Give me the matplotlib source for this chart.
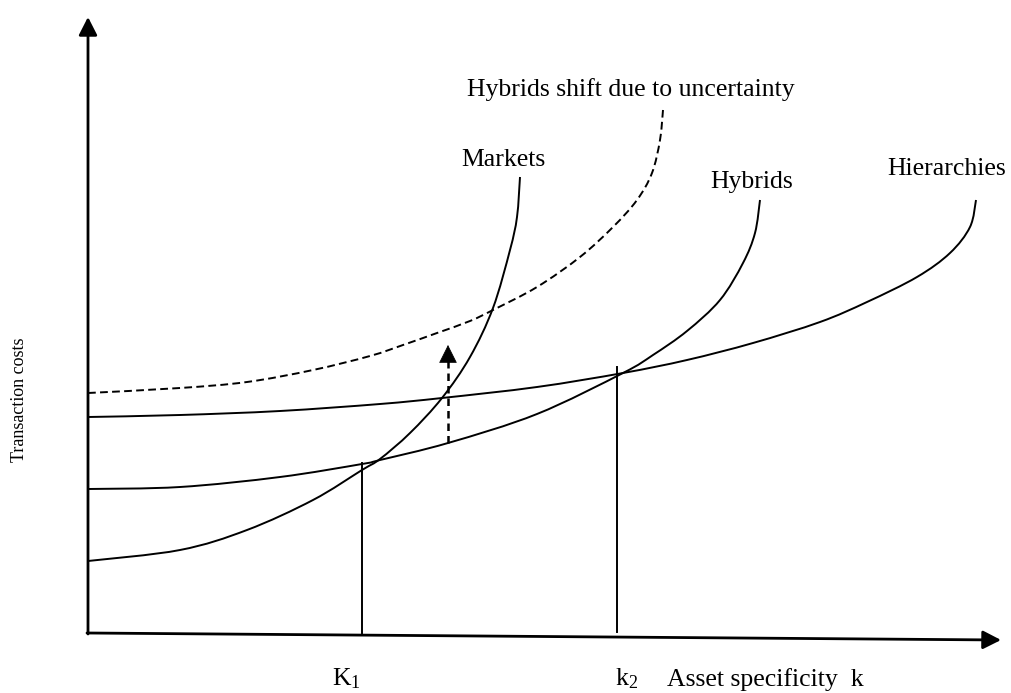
import matplotlib.pyplot as plt
from matplotlib.path import Path
from matplotlib.patches import PathPatch
import numpy as np

plt.rcParams["mathtext.fontset"] = "custom"
plt.rcParams["mathtext.rm"] = "Liberation Serif"
plt.rcParams["mathtext.it"] = "Liberation Serif:italic"

# curve points (pixel-like units, y grows downward)
markets_x = [88, 180, 247, 313, 362, 380, 410, 442, 470, 493, 510, 517, 520]
markets_y = [561, 550, 530, 500, 470, 459, 433, 398, 357, 308, 250, 217, 177]

hybrids_x = [88, 180, 280, 362, 380, 448, 537, 623, 653, 687, 720, 743, 755, 760]
hybrids_y = [489, 487, 477, 464, 460, 443, 414, 373, 355, 331, 300, 263, 233, 200]

hier_x = [88, 180, 280, 380, 442, 537, 623, 687, 753, 820, 867, 917, 950, 970, 976]
hier_y = [417, 415, 411, 404, 398, 387, 373, 360, 343, 322, 302, 277, 253, 227, 200]

shift_x = [88, 180, 247, 313, 370, 403, 437, 470, 493, 537, 580, 613, 637, 652, 660, 663]
shift_y = [393, 388, 382, 370, 356, 345, 333, 321, 310, 287, 257, 227, 200, 173, 140, 110]

k1_x, k1_top = 362, 463
k2_x, k2_top = 617, 367
shift_arrow_x, shift_arrow_from, shift_arrow_to = 448, 443, 345

curve_labels = ["Markets", "Hybrids", "Hierarchies", "Hybrids shift due to uncertainty"]
label_pos = [(503, 160), (752, 182), (947, 169), (631, 90)]


def smooth_path(xs, ys):
    # Catmull-Rom through the read points, drawn as cubic Bezier segments
    p = np.column_stack([xs, ys]).astype(float)
    verts = [p[0]]
    codes = [Path.MOVETO]
    for i in range(len(p) - 1):
        p0 = p[i - 1] if i > 0 else p[i]
        p3 = p[i + 2] if i + 2 < len(p) else p[i + 1]
        c1 = p[i] + (p[i + 1] - p0) / 6
        c2 = p[i + 1] - (p3 - p[i]) / 6
        verts += [c1, c2, p[i + 1]]
        codes += [Path.CURVE4] * 3
    return Path(verts, codes)


fig = plt.figure(figsize=(10.11, 6.93), dpi=100)
ax = fig.add_axes([0, 0, 1, 1])
ax.set_xlim(0, 1011)
ax.set_ylim(693, 0)
ax.axis("off")

font = "Liberation Serif"
lw = 1.4

for xs, ys, ls in [(markets_x, markets_y, "-"), (hybrids_x, hybrids_y, "-"),
                   (hier_x, hier_y, "-"), (shift_x, shift_y, (0, (4, 2.2)))]:
    ax.add_patch(PathPatch(smooth_path(xs, ys), fill=False, lw=lw,
                           linestyle=ls, edgecolor="black"))

# axes with arrow heads
head = "-|>,head_length=0.55,head_width=0.28"
ax.annotate("", xy=(88, 17), xytext=(88, 634),
            arrowprops=dict(arrowstyle=head, lw=2, color="black",
                            mutation_scale=20, shrinkA=0, shrinkB=0))
ax.annotate("", xy=(1001, 640), xytext=(87, 633),
            arrowprops=dict(arrowstyle=head, lw=2, color="black",
                            mutation_scale=20, shrinkA=0, shrinkB=0))

# vertical markers at K1 and k2
ax.plot([k1_x, k1_x], [k1_top, 633], color="black", lw=lw)
ax.plot([k2_x, k2_x], [k2_top, 632], color="black", lw=lw)

# dashed shift arrow
ax.plot([shift_arrow_x, shift_arrow_x], [shift_arrow_from, shift_arrow_to + 15],
        color="black", lw=1.8, linestyle=(0, (3, 2)))
ax.annotate("", xy=(shift_arrow_x, shift_arrow_to),
            xytext=(shift_arrow_x, shift_arrow_to + 16),
            arrowprops=dict(arrowstyle="-|>,head_length=0.6,head_width=0.3",
                            lw=0.5, color="black", mutation_scale=20,
                            shrinkA=0, shrinkB=0))

for txt, (x, y) in zip(curve_labels, label_pos):
    ax.text(x, y, txt, ha="center", va="center", fontsize=18.5, family=font)

ax.text(332, 679, "K$_1$", ha="left", va="center", fontsize=18.5, family=font)
ax.text(615, 679, "k$_2$", ha="left", va="center", fontsize=18.5, family=font)
ax.text(667, 680, "Asset specificity  k", ha="left", va="center",
        fontsize=18.5, family=font)
ax.text(20, 400, "Transaction costs", ha="center", va="center", rotation=90,
        fontsize=13, family=font)

fig.savefig("out.png", dpi=100)
